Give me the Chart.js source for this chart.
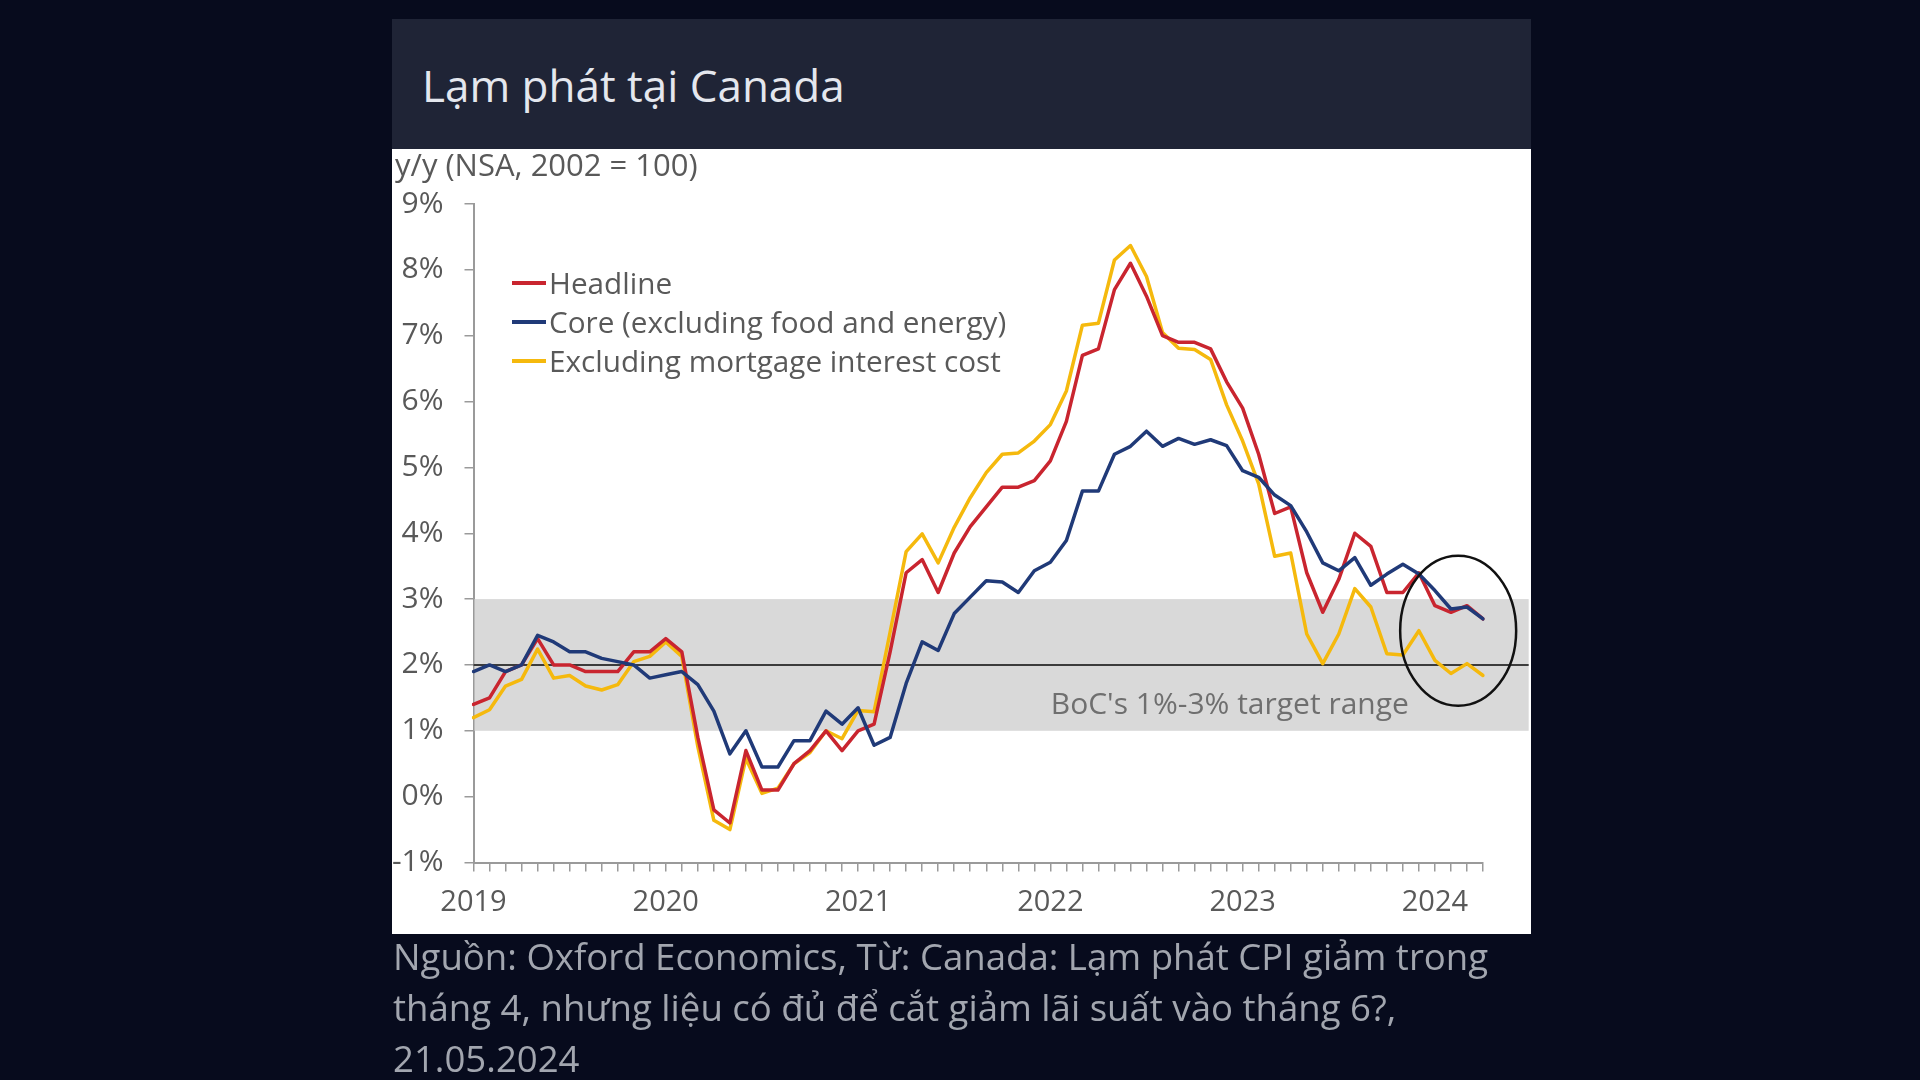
<!DOCTYPE html>
<html>
<head>
<meta charset="utf-8">
<script src="https://cdn.jsdelivr.net/npm/chart.js@4.4.1/dist/chart.umd.min.js"></script>
<style>
  html, body { margin:0; padding:0; width:1920px; height:1080px; overflow:hidden; background:#070b1d; font-family:'Open Sans', sans-serif; }
  #titlebar { position:absolute; left:392px; top:19px; width:1139px; height:130px; background:#1f2436; }
  #title { position:absolute; left:30px; top:38px; font-size:44px; line-height:56px; color:#e4e7ee; white-space:nowrap; }
  #panel { position:absolute; left:392px; top:149px; width:1139px; height:785px; background:#ffffff; }
  #chart { position:absolute; left:0; top:0; }
  #unit { position:absolute; left:3px; top:-2px; font-size:31px; line-height:34px; color:#595959; white-space:nowrap; }
  .leg { position:absolute; left:120px; font-size:29.7px; line-height:34px; color:#595959; white-space:nowrap; }
  .leg .sw { position:absolute; left:0; top:15px; width:34px; height:4px; }
  .leg .tx { position:absolute; left:37px; top:0; }
  #caption { position:absolute; left:393px; top:931px; font-size:36.6px; line-height:51px; color:#a2a6af; white-space:nowrap; }
</style>
</head>
<body>
<div id="titlebar"><div id="title">Lạm phát tại Canada</div></div>
<div id="panel">
  <canvas id="chart" width="1139" height="785"></canvas>
  <div id="unit">y/y (NSA, 2002 = 100)</div>
  <div class="leg" style="top:117px"><span class="sw" style="background:#c9252f"></span><span class="tx">Headline</span></div>
  <div class="leg" style="top:156px"><span class="sw" style="background:#203a78"></span><span class="tx">Core (excluding food and energy)</span></div>
  <div class="leg" style="top:195px"><span class="sw" style="background:#f5b90d"></span><span class="tx">Excluding mortgage interest cost</span></div>
</div>
<div id="caption">Nguồn: Oxford Economics, Từ: Canada: Lạm phát CPI giảm trong<br>tháng 4, nhưng liệu có đủ để cắt giảm lãi suất vào tháng 6?,<br>21.05.2024</div>

<script>
// ---- Categories (monthly, Jan 2019 – Apr 2024) ----
const MONTHS = [
  'Jan 2019','Feb 2019','Mar 2019','Apr 2019','May 2019','Jun 2019','Jul 2019','Aug 2019','Sep 2019','Oct 2019','Nov 2019','Dec 2019',
  'Jan 2020','Feb 2020','Mar 2020','Apr 2020','May 2020','Jun 2020','Jul 2020','Aug 2020','Sep 2020','Oct 2020','Nov 2020','Dec 2020',
  'Jan 2021','Feb 2021','Mar 2021','Apr 2021','May 2021','Jun 2021','Jul 2021','Aug 2021','Sep 2021','Oct 2021','Nov 2021','Dec 2021',
  'Jan 2022','Feb 2022','Mar 2022','Apr 2022','May 2022','Jun 2022','Jul 2022','Aug 2022','Sep 2022','Oct 2022','Nov 2022','Dec 2022',
  'Jan 2023','Feb 2023','Mar 2023','Apr 2023','May 2023','Jun 2023','Jul 2023','Aug 2023','Sep 2023','Oct 2023','Nov 2023','Dec 2023',
  'Jan 2024','Feb 2024','Mar 2024','Apr 2024'
];

// ---- Series (% y/y) ----
const HEADLINE = [
  1.4, 1.5, 1.9, 2.0, 2.4, 2.0, 2.0, 1.9, 1.9, 1.9, 2.2, 2.2,
  2.4, 2.2, 0.9, -0.2, -0.4, 0.7, 0.1, 0.1, 0.5, 0.7, 1.0, 0.7,
  1.0, 1.1, 2.2, 3.4, 3.6, 3.1, 3.7, 4.1, 4.4, 4.7, 4.7, 4.8,
  5.1, 5.7, 6.7, 6.8, 7.7, 8.1, 7.6, 7.0, 6.9, 6.9, 6.8, 6.3,
  5.9, 5.2, 4.3, 4.4, 3.4, 2.8, 3.3, 4.0, 3.8, 3.1, 3.1, 3.4,
  2.9, 2.8, 2.9, 2.7
];
const CORE = [
  1.9, 2.0, 1.9, 2.0, 2.45, 2.35, 2.2, 2.2, 2.1, 2.05, 2.0, 1.8,
  1.85, 1.9, 1.7, 1.3, 0.65, 1.0, 0.45, 0.45, 0.85, 0.85, 1.3, 1.1,
  1.35, 0.78, 0.9, 1.72, 2.35, 2.22, 2.78, 3.03, 3.28, 3.26, 3.1, 3.43,
  3.56, 3.89, 4.64, 4.64, 5.2, 5.32, 5.55, 5.32, 5.44, 5.35, 5.42, 5.33,
  4.95, 4.85, 4.58, 4.42, 4.02, 3.55, 3.43, 3.63, 3.21, 3.38, 3.53, 3.38,
  3.13, 2.85, 2.88, 2.7
];
const EX_MORTGAGE = [
  1.2, 1.32, 1.68, 1.78, 2.24, 1.8, 1.84, 1.68, 1.62, 1.7, 2.05, 2.13,
  2.35, 2.13, 0.76, -0.36, -0.5, 0.58, 0.05, 0.13, 0.5, 0.67, 1.0, 0.88,
  1.31, 1.29, 2.5, 3.72, 3.99, 3.55, 4.09, 4.54, 4.92, 5.2, 5.22, 5.4,
  5.65, 6.16, 7.16, 7.19, 8.15, 8.37, 7.9, 7.05, 6.81, 6.79, 6.64, 5.95,
  5.4, 4.75, 3.65, 3.7, 2.47, 2.02, 2.47, 3.16, 2.88, 2.17, 2.15, 2.52,
  2.07, 1.87, 2.02, 1.84
];

// ---- Axis / annotation values ----
const Y_MIN = -1, Y_MAX = 9, Y_STEP = 1;
const TARGET_RANGE = [1, 3];
const TARGET_MID = 2;
const TARGET_LABEL = "BoC's 1%-3% target range";
const TARGET_LABEL_AT = [47.2, 1.39];   // [month index, value]
const BAND_END = 65.85;                  // month index where the band ends
const CIRCLE_AT = [61.45, 2.52];         // [month index, value]

const C_RED = '#c9252f', C_BLUE = '#203a78', C_YELLOW = '#f5b90d';

const annotPlugin = {
  id: 'annot',
  beforeDatasetsDraw(chart) {
    const { ctx, chartArea, scales: { x, y } } = chart;
    const xr = x.getPixelForValue(BAND_END);
    const yt = y.getPixelForValue(TARGET_RANGE[1]);
    const yb = y.getPixelForValue(TARGET_RANGE[0]);
    ctx.save();
    ctx.fillStyle = '#d9d9d9';
    ctx.fillRect(chartArea.left + 1, yt, xr - chartArea.left - 1, yb - yt);
    const ym = y.getPixelForValue(TARGET_MID);
    ctx.strokeStyle = '#3c3c3c';
    ctx.lineWidth = 2;
    ctx.beginPath();
    ctx.moveTo(chartArea.left, ym);
    ctx.lineTo(xr, ym);
    ctx.stroke();
    ctx.font = '30px "Open Sans"';
    ctx.fillStyle = '#6f6f6f';
    ctx.textAlign = 'center';
    ctx.textBaseline = 'middle';
    ctx.fillText(TARGET_LABEL, x.getPixelForValue(TARGET_LABEL_AT[0]), y.getPixelForValue(TARGET_LABEL_AT[1]));
    ctx.restore();
  },
  afterDatasetsDraw(chart) {
    const { ctx, scales: { x, y } } = chart;
    ctx.save();
    ctx.strokeStyle = '#111111';
    ctx.lineWidth = 2.5;
    ctx.beginPath();
    ctx.ellipse(x.getPixelForValue(CIRCLE_AT[0]), y.getPixelForValue(CIRCLE_AT[1]), 58, 75, 0, 0, Math.PI * 2);
    ctx.stroke();
    ctx.restore();
  }
};

Chart.defaults.font.family = "'Open Sans', sans-serif";

new Chart(document.getElementById('chart'), {
  type: 'line',
  data: {
    labels: MONTHS,
    datasets: [
      { label: 'Core (excluding food and energy)', data: CORE, borderColor: C_BLUE, order: 0 },
      { label: 'Headline', data: HEADLINE, borderColor: C_RED, order: 1 },
      { label: 'Excluding mortgage interest cost', data: EX_MORTGAGE, borderColor: C_YELLOW, order: 2 }
    ]
  },
  options: {
    responsive: false,
    animation: false,
    devicePixelRatio: 1,
    layout: { padding: { top: 55, right: 48, bottom: 0, left: 0 } },
    elements: {
      point: { radius: 0 },
      line: { borderWidth: 3.5, tension: 0, borderJoinStyle: 'round', borderCapStyle: 'round' }
    },
    plugins: { legend: { display: false }, tooltip: { enabled: false } },
    scales: {
      x: {
        type: 'category',
        offset: false,
        afterFit(scale) { scale.height = 71.5; },
        grid: { display: true, drawOnChartArea: false, drawTicks: true, tickLength: 9, color: '#9a9a9a', lineWidth: 1.5 },
        border: { display: true, color: '#9a9a9a', width: 2 },
        ticks: {
          autoSkip: false, maxRotation: 0, minRotation: 0, padding: 14,
          color: '#595959', font: { size: 29 },
          callback(v, i) { const m = MONTHS[i]; return m.startsWith('Jan') ? m.slice(4) : ''; }
        }
      },
      y: {
        min: Y_MIN, max: Y_MAX,
        afterFit(scale) { scale.width = 81.5; },
        grid: { display: true, drawOnChartArea: false, drawTicks: true, tickLength: 9, color: '#9a9a9a', lineWidth: 1.5 },
        border: { display: true, color: '#9a9a9a', width: 2 },
        ticks: { stepSize: Y_STEP, padding: 21, color: '#595959', font: { size: 30 }, callback: v => v + '%' }
      }
    }
  },
  plugins: [annotPlugin]
});
</script>
</body>
</html>
